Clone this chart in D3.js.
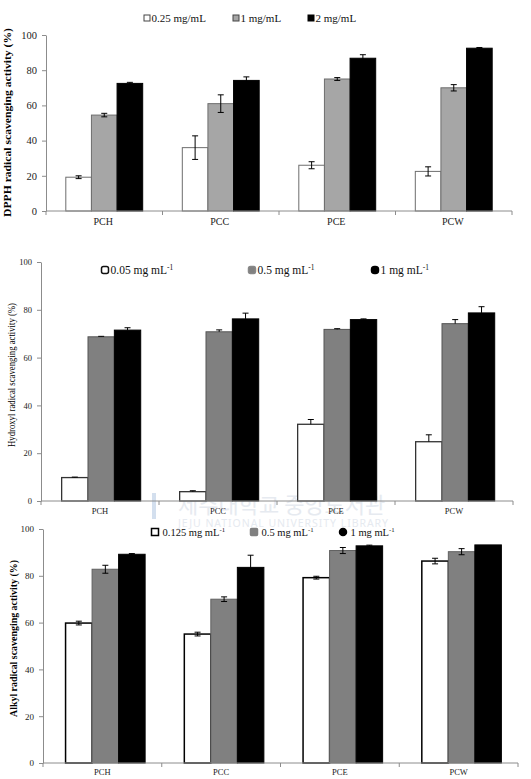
<!DOCTYPE html>
<html>
<head>
<meta charset="utf-8">
<script src="https://cdn.jsdelivr.net/npm/d3@7"></script>
<style>
  body { margin: 0; background: #fff; }
  svg { display: block; }
  svg text { font-family: "Liberation Serif", "DejaVu Serif", serif; }
</style>
</head>
<body>
<div id="chart"></div>
<script>
// categories shared by the three panels
const categories = ["PCH", "PCC", "PCE", "PCW"];

// DPPH panel
const dpphSeries = ["0.25 mg/mL", "1 mg/mL", "2 mg/mL"];
const dpphValues = [[19.2, 54.5, 72.5], [36, 61, 74.2], [26, 75, 86.8], [22.5, 70, 92.5]];
const dpphErrors = [[0.8, 1, 0.6], [6.7, 5, 2], [2, 0.8, 2], [2.6, 1.8, 0.4]];

// Hydroxyl panel
const hydroxylSeries = ["0.05 mg mL", "0.5 mg mL", "1 mg mL"];
const hydroxylValues = [[9.8, 68.7, 71.5], [3.9, 70.8, 76.2], [32.1, 71.8, 75.9], [24.8, 74.2, 78.7]];
const hydroxylErrors = [[0.2, 0.2, 1], [0.4, 0.8, 2.4], [2, 0.3, 0.3], [2.9, 1.7, 2.6]];

// Alkyl panel
const alkylSeries = ["0.125 mg mL", "0.5 mg mL", "1 mg mL"];
const alkylValues = [[59.8, 82.8, 89.2], [55.1, 70, 83.6], [79.2, 90.8, 92.8], [86.3, 90.3, 93.2]];
const alkylErrors = [[0.8, 1.7, 0.3], [0.8, 1, 5.2], [0.6, 1.3, 0.3], [1.2, 1.3, 0]];

const yTicks = [0, 20, 40, 60, 80, 100];

var svg = d3.select("#chart").append("svg")
    .attr("width", 531)
    .attr("height", 779);

// faint library watermark behind the middle panel
var wm = svg.append("g").attr("fill", "#e6eaf0");
wm.append("text")
    .attr("x", 178).attr("y", 513)
    .style("font-family", "'Noto Sans CJK KR'")
    .attr("font-size", 22)
    .text("제주대학교 중앙도서관");
wm.append("text")
    .attr("x", 178).attr("y", 527)
    .style("font-family", "'Noto Sans'")
    .attr("font-size", 10.5)
    .attr("textLength", 210)
    .text("JEJU NATIONAL UNIVERSITY LIBRARY");
wm.append("rect").attr("x", 152).attr("y", 493).attr("width", 4).attr("height", 26).attr("fill", "#d3dfee");

function drawPanel(cfg) {
    var g = svg.append("g");

    var x = d3.scaleBand().domain(categories).range([cfg.x0, cfg.x1]);
    var xs = d3.scaleBand().domain(cfg.series)
        .range([x.bandwidth() * cfg.g0, x.bandwidth() * cfg.g1]);
    var y = d3.scaleLinear().domain([0, 100]).range([cfg.yb, cfg.yt]);

    // y axis
    var ya = g.append("g")
        .attr("transform", "translate(" + cfg.x0 + ",0)")
        .call(d3.axisLeft(y).tickValues(yTicks).tickSize(4).tickSizeOuter(0).tickPadding(cfg.tickPad));
    ya.attr("font-family", null);
    ya.select(".domain").attr("stroke", "#8c8c8c");
    ya.selectAll(".tick line").attr("stroke", "#8c8c8c");
    ya.selectAll(".tick text")
        .attr("font-size", cfg.tickFont)
        .attr("fill", "#222");

    // y label
    g.append("text")
        .attr("transform", "translate(" + cfg.labelX + "," + cfg.labelY + ") rotate(-90)")
        .attr("text-anchor", "middle")
        .attr("dy", "0.35em")
        .attr("font-size", cfg.labelFont)
        .attr("font-weight", cfg.labelBold ? "bold" : "normal")
        .attr("textLength", cfg.labelLen)
        .attr("lengthAdjust", "spacingAndGlyphs")
        .text(cfg.label);

    // bars
    var groups = g.selectAll(".grp")
        .data(categories)
        .enter().append("g")
        .attr("transform", function(d) { return "translate(" + x(d) + ",0)"; });

    groups.each(function(cat, ci) {
        var gg = d3.select(this);
        cfg.series.forEach(function(s, si) {
            var v = cfg.values[ci][si];
            gg.append("rect")
                .attr("x", xs(s))
                .attr("y", y(v))
                .attr("width", xs.bandwidth())
                .attr("height", y(0) - y(v))
                .attr("fill", cfg.fills[si])
                .attr("stroke", cfg.strokes[si])
                .attr("stroke-width", cfg.strokeW[si]);
        });
        cfg.series.forEach(function(s, si) {
            var v = cfg.values[ci][si], e = cfg.errors[ci][si];
            if (e <= 0) return;
            var cx = xs(s) + xs.bandwidth() / 2;
            var lo = cfg.upOnly ? v : v - e;
            var hi = v + e;
            gg.append("line")
                .attr("x1", cx).attr("x2", cx)
                .attr("y1", y(lo)).attr("y2", y(hi))
                .attr("stroke", "#000").attr("stroke-width", 1);
            gg.append("line")
                .attr("x1", cx - 3).attr("x2", cx + 3)
                .attr("y1", y(hi)).attr("y2", y(hi))
                .attr("stroke", "#000").attr("stroke-width", 1);
            if (!cfg.upOnly) {
                gg.append("line")
                    .attr("x1", cx - 3).attr("x2", cx + 3)
                    .attr("y1", y(lo)).attr("y2", y(lo))
                    .attr("stroke", "#000").attr("stroke-width", 1);
            }
        });
    });

    // x axis with ticks at category boundaries
    g.append("line")
        .attr("x1", cfg.x0).attr("x2", cfg.x1)
        .attr("y1", y(0)).attr("y2", y(0))
        .attr("stroke", "#8c8c8c");
    var bounds = categories.map(function(c) { return x(c); }).concat([x.range()[1]]);
    g.selectAll(".bt")
        .data(bounds)
        .enter().append("line")
        .attr("x1", function(d) { return d; }).attr("x2", function(d) { return d; })
        .attr("y1", y(0)).attr("y2", y(0) + 4)
        .attr("stroke", "#8c8c8c");
    g.selectAll(".cl")
        .data(categories)
        .enter().append("text")
        .attr("x", function(d) { return x(d) + x.bandwidth() / 2 + cfg.catShift; })
        .attr("y", y(0) + cfg.catDy)
        .attr("text-anchor", "middle")
        .attr("font-size", cfg.catFont)
        .attr("fill", "#222")
        .text(function(d) { return d; });

    // legend
    cfg.series.forEach(function(s, si) {
        var lx = cfg.legendX[si];
        var m = cfg.markerSize;
        g.append("rect")
            .attr("x", lx - m / 2).attr("y", cfg.legendY - m / 2)
            .attr("width", m).attr("height", m)
            .attr("rx", cfg.markerR[si]).attr("ry", cfg.markerR[si])
            .attr("fill", cfg.fills[si])
            .attr("stroke", cfg.legendStroke[si])
            .attr("stroke-width", cfg.markerStrokeW);
        var t = g.append("text")
            .attr("x", lx + m / 2 + cfg.legendGap)
            .attr("y", cfg.legendY)
            .attr("dy", "0.35em")
            .attr("font-size", cfg.legendFont)
            .attr("fill", "#111");
        t.append("tspan").text(s);
        if (cfg.superscript) {
            t.append("tspan")
                .attr("font-size", cfg.legendFont * 0.65)
                .attr("dy", "-0.5em")
                .text("-1");
        }
    });
}

drawPanel({
    series: dpphSeries, values: dpphValues, errors: dpphErrors,
    x0: 46, x1: 512, yb: 211, yt: 35, g0: 0.17, g1: 0.83,
    fills: ["#ffffff", "#a6a6a6", "#000000"],
    strokes: ["#6e6e6e", "#6e6e6e", "#000000"],
    strokeW: [1, 1, 1],
    upOnly: false,
    tickFont: 10.5, tickPad: 5,
    label: "DPPH radical scavenging activity (%)", labelX: 7, labelY: 122.5,
    labelFont: 10.5, labelBold: true, labelLen: 189,
    catFont: 10, catDy: 14, catShift: -1,
    legendX: [147, 236, 311], legendY: 18, legendFont: 11, legendGap: 1.5,
    markerSize: 6, markerR: [0, 0, 0], markerStrokeW: 1,
    legendStroke: ["#444", "#444", "#000"], superscript: false
});

drawPanel({
    series: hydroxylSeries, values: hydroxylValues, errors: hydroxylErrors,
    x0: 41, x1: 513, yb: 501, yt: 262, g0: 0.175, g1: 0.845,
    fills: ["#ffffff", "#808080", "#000000"],
    strokes: ["#333333", "#555555", "#000000"],
    strokeW: [1.3, 1, 1],
    upOnly: true,
    tickFont: 8.5, tickPad: 5,
    label: "Hydroxyl radical scavenging activity (%)", labelX: 12, labelY: 375,
    labelFont: 9.5, labelBold: false, labelLen: 144,
    catFont: 8.5, catDy: 13, catShift: 0,
    legendX: [105, 252, 375], legendY: 270, legendFont: 11.5, legendGap: 2,
    markerSize: 7, markerR: [2, 2, 3], markerStrokeW: 1.5,
    legendStroke: ["#111", "#888", "#000"], superscript: true
});

drawPanel({
    series: alkylSeries, values: alkylValues, errors: alkylErrors,
    x0: 43, x1: 518, yb: 763, yt: 529, g0: 0.19, g1: 0.86,
    fills: ["#ffffff", "#808080", "#000000"],
    strokes: ["#000000", "#606060", "#000000"],
    strokeW: [1.5, 1, 1],
    upOnly: false,
    tickFont: 9, tickPad: 5,
    label: "Alkyl radical scavenging activity (%)", labelX: 13, labelY: 638.5,
    labelFont: 10, labelBold: true, labelLen: 157,
    catFont: 8.5, catDy: 12, catShift: 0,
    legendX: [155, 254, 343], legendY: 532, legendFont: 10.5, legendGap: 4,
    markerSize: 7, markerR: [0, 1, 3.5], markerStrokeW: 1.5,
    legendStroke: ["#000", "#808080", "#000"], superscript: true
});
</script>
</body>
</html>
